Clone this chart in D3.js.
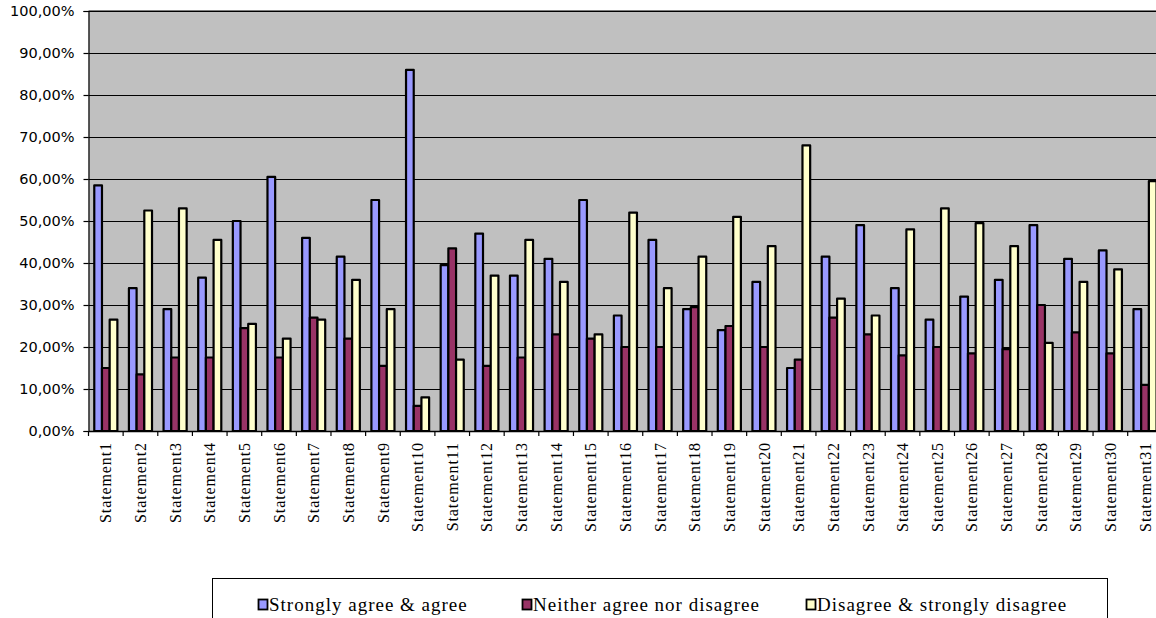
<!DOCTYPE html>
<html>
<head>
<meta charset="utf-8">
<script src="https://cdn.jsdelivr.net/npm/d3@7"></script>
<style>
  body { margin: 0; background: #fff; }
  svg { display: block; }
</style>
</head>
<body>
<div id="chart"></div>
<script>
// Data
const categories = d3.range(1, 32).map((i) => "Statement" + i);
const seriesNames = [
  "Strongly agree & agree",
  "Neither agree nor disagree",
  "Disagree & strongly disagree",
];
const agree = [58.5, 34, 29, 36.5, 50, 60.5, 46, 41.5, 55, 86, 39.5, 47, 37, 41, 55, 27.5, 45.5, 29, 24, 35.5, 15, 41.5, 49, 34, 26.5, 32, 36, 49, 41, 43, 29];
const neither = [15, 13.5, 17.5, 17.5, 24.5, 17.5, 27, 22, 15.5, 6, 43.5, 15.5, 17.5, 23, 22, 20, 20, 29.5, 25, 20, 17, 27, 23, 18, 20, 18.5, 19.5, 30, 23.5, 18.5, 11];
const disagree = [26.5, 52.5, 53, 45.5, 25.5, 22, 26.5, 36, 29, 8, 17, 37, 45.5, 35.5, 23, 52, 34, 41.5, 51, 44, 68, 31.5, 27.5, 48, 53, 49.5, 44, 21, 35.5, 38.5, 59.5];
const yTicks = [0, 10, 20, 30, 40, 50, 60, 70, 80, 90, 100];
const colors = ["#9999ff", "#993366", "#ffffcc"];

const width = 1156;
const height = 618;
const plot = { left: 88.5, top: 11, bottom: 431, right: 88.5 + 31 * 34.64 };

const series = [agree, neither, disagree];
const data = categories.map((c, i) => ({
  cat: c,
  values: series.map((s, k) => ({ key: k, value: s[i] })),
}));

const svg = d3.select("#chart").append("svg")
  .attr("width", width)
  .attr("height", height);

const x0 = d3.scaleBand().domain(categories).range([plot.left, plot.right]).padding(0);
const x1 = d3.scaleBand().domain([0, 1, 2]).range([0, x0.bandwidth()])
  .paddingInner(0).paddingOuter(0.75);
const y = d3.scaleLinear().domain([0, 100]).range([plot.bottom, plot.top]);

// plot background
svg.append("rect")
  .attr("x", plot.left).attr("y", plot.top)
  .attr("width", plot.right - plot.left)
  .attr("height", plot.bottom - plot.top)
  .attr("fill", "#c0c0c0");

// gridlines
svg.append("g")
  .selectAll("line")
  .data(yTicks.slice(1))
  .join("line")
  .attr("x1", plot.left).attr("x2", plot.right)
  .attr("y1", (d) => Math.round(y(d)) + 0.5).attr("y2", (d) => Math.round(y(d)) + 0.5)
  .attr("stroke", "#000").attr("stroke-width", 1.2);

// y axis
const yAxis = svg.append("g")
  .attr("transform", `translate(${plot.left},0)`)
  .call(d3.axisLeft(y).tickValues(yTicks).tickSize(5).tickPadding(9)
    .tickFormat((d) => d3.format(".2f")(d).replace(".", ",") + "%"));
yAxis.select(".domain").attr("stroke", "#000").attr("stroke-width", 1.2);
yAxis.selectAll(".tick line").attr("stroke", "#000").attr("stroke-width", 1.2);
yAxis.selectAll("text")
  .style("font-family", "'DejaVu Sans', sans-serif")
  .style("font-size", "14.5px")
  .attr("fill", "#000");

// bars
svg.append("g")
  .selectAll("g")
  .data(data)
  .join("g")
  .attr("transform", (d) => `translate(${x0(d.cat)},0)`)
  .selectAll("rect")
  .data((d) => d.values)
  .join("rect")
  .attr("x", (d) => x1(d.key))
  .attr("y", (d) => y(d.value))
  .attr("width", x1.bandwidth())
  .attr("height", (d) => y(0) - y(d.value))
  .attr("fill", (d) => colors[d.key])
  .attr("stroke", "#000")
  .attr("stroke-width", 2.2)
  .attr("stroke-linejoin", "round");

// x axis
const xAxis = svg.append("g")
  .attr("transform", `translate(0,${plot.bottom})`)
  .call(d3.axisBottom(x0).tickSize(0).tickPadding(0));
xAxis.select(".domain").attr("stroke", "#000").attr("stroke-width", 1.5);
xAxis.selectAll(".tick line").remove();
xAxis.selectAll("text")
  .attr("transform", "rotate(-90)")
  .attr("x", -11)
  .attr("y", 0)
  .attr("dy", "0.35em")
  .style("text-anchor", "end")
  .style("font-family", "'Liberation Serif', serif")
  .style("font-size", "16px")
  .style("letter-spacing", "0.9px")
  .attr("fill", "#000");

// category separator ticks
svg.append("g")
  .selectAll("line")
  .data(d3.range(0, 32))
  .join("line")
  .attr("x1", (i) => plot.left + i * x0.step())
  .attr("x2", (i) => plot.left + i * x0.step())
  .attr("y1", plot.bottom).attr("y2", plot.bottom + 5)
  .attr("stroke", "#000").attr("stroke-width", 1.2);

// top border
svg.append("line")
  .attr("x1", plot.left).attr("x2", plot.right)
  .attr("y1", plot.top).attr("y2", plot.top)
  .attr("stroke", "#000").attr("stroke-width", 1.2);

// legend
const legend = svg.append("g");
legend.append("rect")
  .attr("x", 212.5).attr("y", 578.5)
  .attr("width", 895).attr("height", 60)
  .attr("fill", "#fff")
  .attr("stroke", "#000").attr("stroke-width", 1);

const legendX = [258, 522, 806];
const item = legend.selectAll("g.item")
  .data(seriesNames)
  .join("g")
  .attr("class", "item")
  .attr("transform", (d, i) => `translate(${legendX[i]},599)`);
item.append("rect")
  .attr("x", 0.5).attr("y", 0.5)
  .attr("width", 9).attr("height", 10)
  .attr("fill", (d, i) => colors[i])
  .attr("stroke", "#000").attr("stroke-width", 1.8);
item.append("text")
  .attr("x", 11).attr("y", 12)
  .style("font-family", "'Liberation Serif', serif")
  .style("font-size", "19px")
  .style("letter-spacing", "1px")
  .attr("fill", "#000")
  .text((d) => d);
</script>
</body>
</html>
